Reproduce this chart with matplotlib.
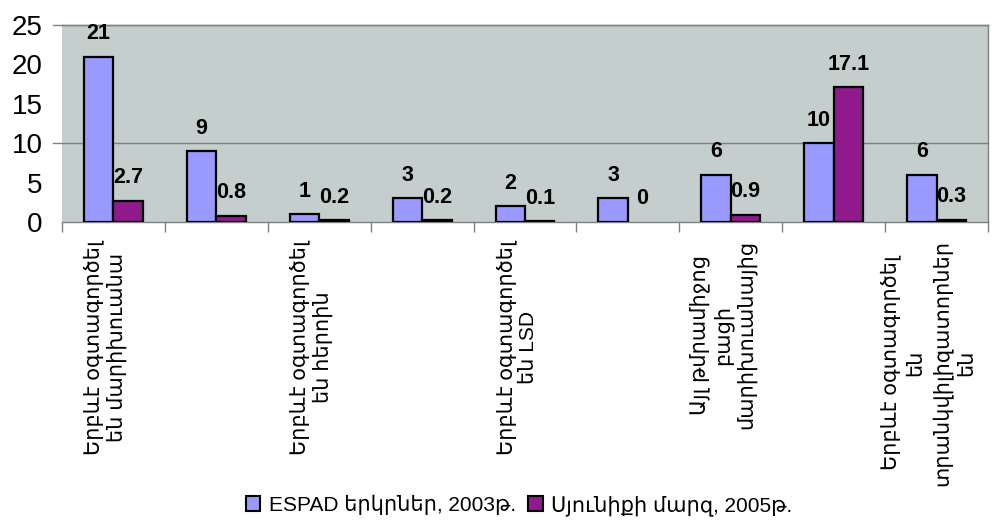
import numpy as np
import matplotlib
matplotlib.use("Agg")
import matplotlib.pyplot as plt
from matplotlib.patches import Patch
from matplotlib.transforms import blended_transform_factory, offset_copy

# Share of respondents (%) who have ever used each substance
categories = [
    "Երբևէ օգտագործել\nեն մարիխուանա",
    "",
    "Երբևէ օգտագործել\nեն հերոին",
    "",
    "Երբևէ օգտագործել\nեն LSD",
    "",
    "Այլ թմրամիջոց\nբացի\nմարիխուանայից",
    "",
    "Երբևէ օգտագործել\nեն\nտրանկվիլիզատորներ\nեն",
]
series_names = ["ESPAD երկրներ, 2003թ.", "Սյունիքի մարզ, 2005թ."]
espad_2003 = [21, 9, 1, 3, 2, 3, 6, 10, 6]
syunik_2005 = [2.7, 0.8, 0.2, 0.2, 0.1, 0, 0.9, 17.1, 0.3]
y_ticks = [0, 5, 10, 15, 20, 25]

FONT = ["Liberation Sans", "DejaVu Sans"]
plt.rcParams["font.family"] = FONT

blue = "#9999FF"
purple = "#8E1A8C"
plot_bg = "#C3CECD"
frame = "#808080"

fig = plt.figure(figsize=(10.04, 5.24), dpi=100)
ax = fig.add_axes([62 / 1004, 1 - 222 / 524, (988 - 62) / 1004, (222 - 25) / 524])
ax.set_facecolor(plot_bg)

x = np.arange(len(categories))
w = 0.286
series = [espad_2003, syunik_2005]
colors = [blue, purple]
offsets = [-w / 2, w / 2]

for vals, col, off in zip(series, colors, offsets):
    lws = [1.6 if v > 0 else 0 for v in vals]
    bars = ax.bar(x + off, vals, width=w, color=col, edgecolor="black",
                  linewidth=lws, zorder=3)
    for b, v in zip(bars, vals):
        label = f"{v:g}"
        ax.annotate(label, (b.get_x() + b.get_width() / 2, v),
                    xytext=(0, 9), textcoords="offset points",
                    ha="center", va="bottom", fontsize=15.5,
                    fontweight="bold", color="black", zorder=5)

ax.set_xlim(-0.5, len(categories) - 0.5)
ax.set_ylim(0, 25)
ax.set_yticks(y_ticks)
ax.set_yticklabels([str(t) for t in y_ticks], fontsize=20)
ax.tick_params(axis="y", length=0, pad=14)

# Category separators below the axis
ax.set_xticks(np.arange(len(categories) + 1) - 0.5)
ax.set_xticklabels([])
ax.tick_params(axis="x", length=7, width=1, color=frame, direction="out")

ax.spines["left"].set_visible(False)
for side in ["top", "right", "bottom"]:
    ax.spines[side].set_color(frame)
    ax.spines[side].set_linewidth(1)

# Horizontal rule at 10 and top rule, both reaching slightly past the axis
for yv in (10, 25):
    ax.plot([-0.5 - 0.09, len(categories) - 0.5], [yv, yv], color=frame,
            linewidth=1, zorder=2, clip_on=False)

# Rotated category labels
trans = blended_transform_factory(ax.transData, ax.transAxes)
trans = offset_copy(trans, fig=fig, x=0, y=-18, units="dots")
for xi, lab in zip(x, categories):
    if lab:
        spacing = 1.35 if lab.count("\n") > 2 else 1.15
        ax.text(xi - 0.08, 0, lab, transform=trans, rotation=90,
                ha="center", va="top", multialignment="center",
                fontsize=15, linespacing=spacing)

handles = [Patch(facecolor=c, edgecolor="black", linewidth=1.5) for c in colors]
fig.legend(handles, series_names, loc="center",
           bbox_to_anchor=(0.517, 0.036), ncol=2, frameon=False,
           fontsize=15, handlelength=0.7, handleheight=0.7,
           handletextpad=0.4, columnspacing=0.6)

fig.savefig("out.png", dpi=100, facecolor="white")
